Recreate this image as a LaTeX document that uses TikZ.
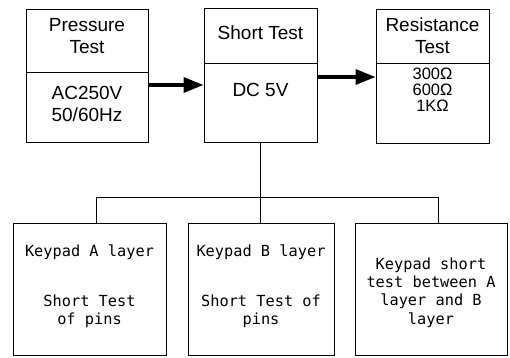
\documentclass[tikz,border=0pt]{standalone}
\usepackage{fontspec}
\setmainfont{Liberation Sans}
\newfontfamily\keyfont{DejaVu Sans Mono}
\usetikzlibrary{arrows.meta}

\begin{document}
\begin{tikzpicture}[x=1pt,y=-1pt,
		box/.style={draw,line width=1pt,inner sep=0pt},
		title/.style={align=center,font=\fontsize{19}{22}\selectfont},
		ohms/.style={align=center,font=\fontsize{16.5}{16}\selectfont},
		keytext/.style={align=center,font=\keyfont\fontsize{15.3}{18.3}\selectfont},
		flow/.style={line width=3.5pt,-{Triangle[length=20pt,width=15pt]}},
		link/.style={line width=0.9pt} ]
	\useasboundingbox (0,0) rectangle (510,357);
	% test stations
	\node [box,minimum width=122pt,minimum height=63pt] (pressHead) at (87,40.5) {};
	\node [box,minimum width=122pt,minimum height=70pt] (pressBody) at (87,107) {};
	\node [box,minimum width=113pt,minimum height=55pt] (shortHead) at (260.5,35.5) {};
	\node [box,minimum width=113pt,minimum height=79pt] (shortBody) at (260.5,102.5) {};
	\node [box,minimum width=113pt,minimum height=54pt] (resHead) at (432.5,36) {};
	\node [box,minimum width=113pt,minimum height=80pt] (resBody) at (432.5,103) {};
	\node [title] (pressTxt) at (87,36) {Pressure\\Test};
	\node [title] (pressVal) at (87,104) {AC250V\\50/60Hz};
	\node [title] (shortTxt) at (260.5,33) {Short Test};
	\node [title] (shortVal) at (260.5,90) {DC 5V};
	\node [title] (resTxt) at (432.5,36) {Resistance\\Test};
	\node [ohms] (resVal) at (432.5,89.5) {300Ω\\600Ω\\1KΩ};
	% keypad checks
	\node [box,minimum width=153pt,minimum height=132pt] (keyA) at (89.5,289) {};
	\node [box,minimum width=146pt,minimum height=132pt] (keyB) at (261,289) {};
	\node [box,minimum width=152pt,minimum height=132pt] (keyC) at (431,289) {};
	\node [keytext] (keyATxt) at (89.5,286.5) {Keypad A layer\\[31pt]Short Test\\of pins};
	\node [keytext] (keyBTxt) at (261,286.5) {Keypad B layer\\[31pt]Short Test of\\pins};
	\node [keytext] (keyCTxt) at (431,292.5) {Keypad short\\test between A\\layer and B\\layer};
	% connectors
	\draw [flow] ([yshift=22pt]pressBody.east) -- ([yshift=17.5pt]shortBody.west);
	\draw [flow] ([yshift=25.5pt]shortBody.east) -- ([yshift=26pt]resBody.west);
	\draw [link] (shortBody.south) -- ++(0,55) coordinate (bus);
	\draw [link] (bus) -| ([xshift=6.5pt]keyA.north);
	\draw [link] (bus) -- (bus |- keyB.north);
	\draw [link] (bus) -| ([xshift=7pt]keyC.north);
\end{tikzpicture}
\end{document}
